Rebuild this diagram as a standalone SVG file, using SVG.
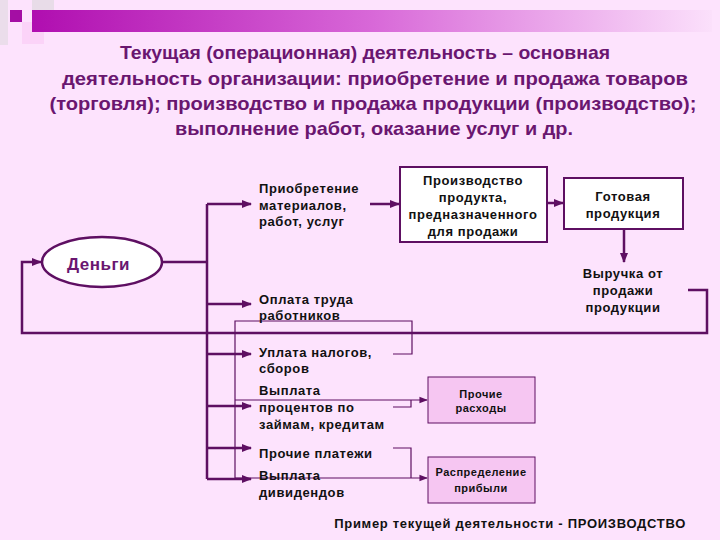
<svg xmlns="http://www.w3.org/2000/svg" width="720" height="540" viewBox="0 0 720 540">
<defs>
<linearGradient id="bar" x1="0" y1="0" x2="1" y2="0">
<stop offset="0" stop-color="#B00EB0"/>
<stop offset="0.5" stop-color="#D868D8"/>
<stop offset="1" stop-color="#FBE0FB"/>
</linearGradient>
<marker id="ah" viewBox="0 0 10 10" refX="9" refY="5" markerWidth="4" markerHeight="4" orient="auto" markerUnits="strokeWidth">
<path d="M0,1 L10,5 L0,9 z" fill="#5E0F62"/>
</marker>
<marker id="ahs" viewBox="0 0 10 10" refX="9" refY="5" markerWidth="7" markerHeight="7" orient="auto" markerUnits="strokeWidth">
<path d="M0,1 L10,5 L0,9 z" fill="#5E0F62"/>
</marker>
</defs>
<style>
.thick{fill:none;stroke:#5E0F62;stroke-width:2.5}
.thin{fill:none;stroke:#5E0F62;stroke-width:1.2}
.title{font-family:"Liberation Sans",Arial,sans-serif;font-weight:bold;font-size:19px;fill:#6A1670;text-anchor:middle}
.lbl{font-family:"Liberation Sans",Arial,sans-serif;font-weight:bold;font-size:13px;letter-spacing:0.6px;fill:#111}
.ctr{text-anchor:middle}
.small{font-family:"Liberation Sans",Arial,sans-serif;font-weight:bold;font-size:11px;letter-spacing:0.5px;fill:#111;text-anchor:middle}
.box{fill:#FFFFFF;stroke:#5E0F62;stroke-width:2}
.pbox{fill:#F6C6F2;stroke:#5E0F62;stroke-width:1}
</style>
<rect width="720" height="540" fill="#FDE3FD"/>
<g id="decor">
<rect x="0" y="0" width="8" height="45" fill="#EBDDEB"/>
<rect x="32" y="0" width="22" height="10" fill="#E8DCE8"/>
<rect x="22" y="22" width="22" height="22" fill="#FBD3F8"/>
<rect x="10" y="10" width="12" height="12" fill="#A40EA4"/>
<rect x="32" y="10" width="680" height="22" fill="url(#bar)"/>
</g>
<g id="title">
<text class="title" x="365" y="59" textLength="490" lengthAdjust="spacingAndGlyphs">Текущая (операционная) деятельность – основная</text>
<text class="title" x="375" y="85" textLength="626" lengthAdjust="spacingAndGlyphs">деятельность организации: приобретение и продажа товаров</text>
<text class="title" x="373" y="110" textLength="647" lengthAdjust="spacingAndGlyphs">(торговля); производство и продажа продукции (производство);</text>
<text class="title" x="374" y="135" textLength="398" lengthAdjust="spacingAndGlyphs">выполнение работ, оказание услуг и др.</text>
</g>
<g id="connectors">
<polyline class="thick" points="162,262 207,262"/>
<polyline class="thick" points="207,204 207,479"/>
<line class="thick" x1="207" y1="204" x2="251" y2="204" marker-end="url(#ah)"/>
<line class="thick" x1="207" y1="304" x2="251" y2="304" marker-end="url(#ah)"/>
<line class="thick" x1="207" y1="354" x2="251" y2="354" marker-end="url(#ah)"/>
<line class="thick" x1="207" y1="406" x2="251" y2="406" marker-end="url(#ah)"/>
<line class="thick" x1="207" y1="448" x2="251" y2="448" marker-end="url(#ah)"/>
<line class="thick" x1="207" y1="479" x2="251" y2="479" marker-end="url(#ah)"/>
<line class="thick" x1="370" y1="204" x2="399" y2="204" marker-end="url(#ah)"/>
<line class="thick" x1="547" y1="203" x2="563" y2="203" marker-end="url(#ah)"/>
<line class="thick" x1="624" y1="229" x2="624" y2="262" marker-end="url(#ah)"/>
<polyline class="thick" points="688,290 707,290 707,333 22,333 22,262 41,262" marker-end="url(#ah)"/>
<polyline class="thin" points="393,354 412,354 412,321 235,321 235,478"/>
<line class="thin" x1="235" y1="400" x2="427" y2="400" marker-end="url(#ahs)"/>
<polyline class="thin" points="393,407 411,407 411,400"/>
<polyline class="thin" points="393,448 411,448 411,478"/>
<line class="thin" x1="235" y1="478" x2="427" y2="478" marker-end="url(#ahs)"/>
</g>
<g id="money">
<ellipse cx="102" cy="262" rx="60" ry="25" fill="#FFFFFF" stroke="#5E0F62" stroke-width="2.5"/>
<text x="67" y="270" font-family="Liberation Sans,Arial,sans-serif" font-weight="bold" font-size="17" letter-spacing="0.5" fill="#6A1670">Деньги</text>
</g>
<g id="purchase">
<text class="lbl" x="259" y="193">Приобретение</text>
<text class="lbl" x="259" y="210">материалов,</text>
<text class="lbl" x="259" y="226">работ, услуг</text>
</g>
<g id="production">
<rect class="box" x="400" y="167" width="147" height="75"/>
<text class="lbl ctr" x="473" y="185">Производство</text>
<text class="lbl ctr" x="473" y="202">продукта,</text>
<text class="lbl ctr" x="473" y="219">предназначенного</text>
<text class="lbl ctr" x="473" y="236">для продажи</text>
</g>
<g id="finished">
<rect class="box" x="564" y="178" width="119" height="51"/>
<text class="lbl ctr" x="623" y="201">Готовая</text>
<text class="lbl ctr" x="623" y="218">продукция</text>
</g>
<g id="revenue">
<text class="lbl ctr" x="623" y="278">Выручка от</text>
<text class="lbl ctr" x="623" y="295">продажи</text>
<text class="lbl ctr" x="623" y="312">продукции</text>
</g>
<g id="wages">
<text class="lbl" x="259" y="304">Оплата труда</text>
<text class="lbl" x="259" y="320">работников</text>
</g>
<g id="taxes">
<text class="lbl" x="259" y="357">Уплата налогов,</text>
<text class="lbl" x="259" y="373">сборов</text>
</g>
<g id="interest">
<text class="lbl" x="259" y="395">Выплата</text>
<text class="lbl" x="259" y="412">процентов по</text>
<text class="lbl" x="259" y="429">займам, кредитам</text>
</g>
<g id="other-payments">
<text class="lbl" x="259" y="458">Прочие платежи</text>
</g>
<g id="dividends">
<text class="lbl" x="259" y="480">Выплата</text>
<text class="lbl" x="259" y="497">дивидендов</text>
</g>
<g id="other-expenses">
<rect class="pbox" x="428" y="377" width="107" height="46"/>
<text class="small" x="481" y="398">Прочие</text>
<text class="small" x="481" y="412">расходы</text>
</g>
<g id="profit">
<rect class="pbox" x="428" y="457" width="107" height="46"/>
<text class="small" x="481" y="476">Распределение</text>
<text class="small" x="481" y="492">прибыли</text>
</g>
<g id="footer">
<text x="686" y="528" text-anchor="end" font-family="Liberation Sans,Arial,sans-serif" font-weight="bold" font-size="13" letter-spacing="0.7" fill="#111">Пример текущей деятельности -  ПРОИЗВОДСТВО</text>
</g>
</svg>
